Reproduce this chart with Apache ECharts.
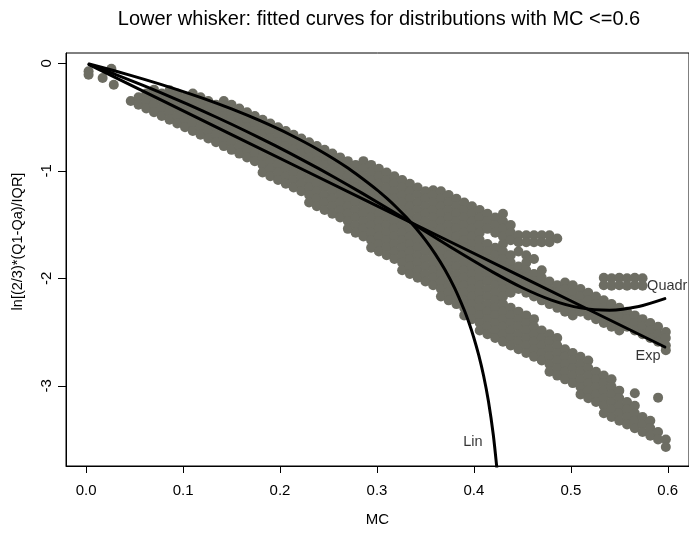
<!DOCTYPE html>
<html>
<head>
<meta charset="utf-8">
<script src="https://cdn.jsdelivr.net/npm/echarts@6/dist/echarts.min.js"></script>
<style>html,body{margin:0;padding:0;background:#fff}#c{width:689px;height:534px}</style>
</head>
<body>
<div id="c"></div>
<script>
// x positions of point columns and the y values of points in each column
const cloudX = [0.046,0.054,0.062,0.070,0.078,0.086,0.094,0.102,0.110,0.118,0.126,0.134,0.142,0.150,0.158,0.166,0.174,0.182,0.190,0.198,0.206,0.214,0.222,0.230,0.238,0.246,0.254,0.262,0.270,0.278,0.286,0.294,0.302,0.310,0.318,0.326,0.334,0.342,0.350,0.358,0.366,0.374,0.382,0.390,0.398,0.406,0.414,0.422,0.430,0.438,0.446,0.454,0.462,0.470,0.478,0.486,0.494,0.502,0.510,0.518,0.526,0.534,0.542,0.550,0.558,0.566,0.574,0.582,0.590,0.598];
const cloudY = [
[-0.35],
[-0.315,-0.385],
[-0.28,-0.35,-0.42],
[-0.245,-0.315,-0.385,-0.455],
[-0.28,-0.35,-0.42,-0.49],
[-0.25,-0.315,-0.385,-0.455,-0.525],
[-0.28,-0.35,-0.42,-0.49,-0.56],
[-0.315,-0.385,-0.455,-0.525,-0.595],
[-0.28,-0.35,-0.42,-0.49,-0.56,-0.63],
[-0.315,-0.385,-0.455,-0.525,-0.595,-0.665],
[-0.35,-0.42,-0.49,-0.56,-0.63,-0.70],
[-0.385,-0.455,-0.525,-0.595,-0.665,-0.735],
[-0.35,-0.42,-0.49,-0.56,-0.63,-0.70,-0.77],
[-0.385,-0.455,-0.525,-0.595,-0.665,-0.735,-0.805],
[-0.42,-0.49,-0.56,-0.63,-0.70,-0.77,-0.84],
[-0.455,-0.525,-0.595,-0.665,-0.735,-0.805,-0.875],
[-0.49,-0.56,-0.63,-0.70,-0.77,-0.84,-0.91],
[-0.525,-0.595,-0.665,-0.735,-0.805,-0.875,-0.945,-1.015],
[-0.56,-0.63,-0.70,-0.77,-0.84,-0.91,-0.98,-1.05],
[-0.595,-0.665,-0.735,-0.805,-0.875,-0.945,-1.015,-1.085],
[-0.63,-0.70,-0.77,-0.84,-0.91,-0.98,-1.05,-1.12],
[-0.665,-0.735,-0.805,-0.875,-0.945,-1.015,-1.085,-1.155],
[-0.70,-0.77,-0.84,-0.91,-0.98,-1.05,-1.12,-1.19],
[-0.735,-0.805,-0.875,-0.945,-1.015,-1.085,-1.155,-1.225,-1.295],
[-0.77,-0.84,-0.91,-0.98,-1.05,-1.12,-1.19,-1.26,-1.33],
[-0.805,-0.875,-0.945,-1.015,-1.085,-1.155,-1.225,-1.295,-1.365],
[-0.84,-0.91,-0.98,-1.05,-1.12,-1.19,-1.26,-1.33,-1.40],
[-0.875,-0.945,-1.015,-1.085,-1.155,-1.225,-1.295,-1.365,-1.435],
[-0.91,-0.98,-1.05,-1.12,-1.19,-1.26,-1.33,-1.40,-1.47,-1.54],
[-0.945,-1.015,-1.085,-1.155,-1.225,-1.295,-1.365,-1.435,-1.505,-1.575],
[-0.91,-0.98,-1.05,-1.12,-1.19,-1.26,-1.33,-1.40,-1.47,-1.54,-1.61],
[-0.945,-1.015,-1.085,-1.155,-1.225,-1.295,-1.365,-1.435,-1.505,-1.575,-1.645,-1.715],
[-0.98,-1.05,-1.12,-1.19,-1.26,-1.33,-1.40,-1.47,-1.54,-1.61,-1.68,-1.75],
[-1.015,-1.085,-1.155,-1.225,-1.295,-1.365,-1.435,-1.505,-1.575,-1.645,-1.715,-1.785],
[-1.05,-1.12,-1.19,-1.26,-1.33,-1.40,-1.47,-1.54,-1.61,-1.68,-1.75,-1.82],
[-1.085,-1.155,-1.225,-1.295,-1.365,-1.435,-1.505,-1.575,-1.645,-1.715,-1.785,-1.855,-1.925],
[-1.12,-1.19,-1.26,-1.33,-1.40,-1.47,-1.54,-1.61,-1.68,-1.75,-1.82,-1.89,-1.96],
[-1.155,-1.225,-1.295,-1.365,-1.435,-1.505,-1.575,-1.645,-1.715,-1.785,-1.855,-1.925,-1.995],
[-1.19,-1.26,-1.33,-1.40,-1.47,-1.54,-1.61,-1.68,-1.75,-1.82,-1.89,-1.96,-2.03],
[-1.18,-1.225,-1.295,-1.365,-1.435,-1.505,-1.575,-1.645,-1.715,-1.785,-1.855,-1.925,-1.995,-2.065],
[-1.19,-1.26,-1.33,-1.40,-1.47,-1.54,-1.61,-1.68,-1.75,-1.82,-1.89,-1.96,-2.03,-2.10,-2.17],
[-1.225,-1.295,-1.365,-1.435,-1.505,-1.575,-1.645,-1.715,-1.785,-1.855,-1.925,-1.995,-2.065,-2.135,-2.205],
[-1.26,-1.33,-1.40,-1.47,-1.54,-1.61,-1.68,-1.75,-1.82,-1.89,-1.96,-2.03,-2.10,-2.17,-2.24],
[-1.295,-1.365,-1.435,-1.505,-1.575,-1.645,-1.715,-1.785,-1.855,-1.925,-1.995,-2.065,-2.135,-2.205,-2.275,-2.345],
[-1.33,-1.40,-1.47,-1.54,-1.61,-1.68,-1.75,-1.82,-1.89,-1.96,-2.03,-2.10,-2.17,-2.24,-2.31,-2.38],
[-1.365,-1.435,-1.505,-1.575,-1.645,-1.715,-1.785,-1.855,-1.925,-1.995,-2.065,-2.135,-2.205,-2.275,-2.345,-2.415,-2.485],
[-1.40,-1.47,-1.54,-1.68,-1.75,-1.82,-1.89,-1.96,-2.03,-2.10,-2.17,-2.24,-2.31,-2.38,-2.45,-2.52],
[-1.435,-1.505,-1.575,-1.715,-1.785,-1.855,-1.925,-1.995,-2.065,-2.135,-2.205,-2.275,-2.345,-2.415,-2.485,-2.555],
[-1.40,-1.47,-1.54,-1.61,-1.68,-1.75,-1.82,-1.89,-1.96,-2.03,-2.10,-2.17,-2.24,-2.31,-2.38,-2.45,-2.52,-2.59],
[-1.505,-1.575,-1.645,-1.785,-1.855,-1.925,-1.995,-2.065,-2.135,-2.275,-2.345,-2.415,-2.485,-2.555,-2.625],
[-1.60,-1.665,-1.75,-1.89,-1.96,-2.03,-2.10,-2.31,-2.38,-2.45,-2.52,-2.59,-2.66],
[-1.60,-1.665,-1.785,-1.855,-1.925,-1.995,-2.065,-2.135,-2.345,-2.415,-2.485,-2.555,-2.625,-2.695],
[-1.60,-1.665,-1.82,-1.96,-2.03,-2.10,-2.17,-2.38,-2.45,-2.52,-2.59,-2.66,-2.73],
[-1.60,-1.665,-1.925,-1.995,-2.065,-2.135,-2.205,-2.485,-2.555,-2.625,-2.695,-2.765],
[-1.60,-1.665,-2.03,-2.10,-2.17,-2.24,-2.52,-2.59,-2.66,-2.73,-2.80,-2.87],
[-1.63,-2.065,-2.135,-2.205,-2.275,-2.555,-2.625,-2.695,-2.765,-2.835,-2.905],
[-2.04,-2.10,-2.17,-2.24,-2.31,-2.66,-2.73,-2.80,-2.87,-2.94],
[-2.065,-2.135,-2.205,-2.275,-2.345,-2.695,-2.765,-2.835,-2.905,-2.975],
[-2.10,-2.17,-2.24,-2.31,-2.73,-2.80,-2.87,-2.94,-3.01,-3.08],
[-2.135,-2.205,-2.275,-2.345,-2.765,-2.835,-2.905,-2.975,-3.045,-3.115],
[-2.17,-2.24,-2.31,-2.38,-2.87,-2.94,-3.01,-3.08,-3.15],
[-1.995,-2.065,-2.205,-2.275,-2.345,-2.415,-2.905,-2.975,-3.045,-3.115,-3.185,-3.255],
[-2.00,-2.07,-2.24,-2.31,-2.38,-2.45,-2.94,-3.01,-3.08,-3.15,-3.22,-3.29],
[-1.995,-2.065,-2.275,-2.345,-2.415,-2.485,-3.045,-3.115,-3.185,-3.255,-3.325],
[-2.00,-2.07,-2.31,-2.38,-2.45,-3.15,-3.22,-3.29,-3.36],
[-1.995,-2.065,-2.345,-2.415,-2.485,-3.07,-3.185,-3.255,-3.325,-3.395],
[-2.00,-2.07,-2.38,-2.45,-2.52,-3.29,-3.36,-3.43],
[-2.415,-2.485,-2.555,-3.325,-3.395,-3.465],
[-2.45,-2.52,-2.59,-3.11,-3.43,-3.50],
[-2.50,-2.555,-2.625,-2.67,-3.50,-3.57]
];
// isolated points near the origin
const loosePoints = [[0.0025,-0.074],[0.0025,-0.106],[0.017,-0.137],[0.026,-0.05],[0.0285,-0.20]];

// fitted curves
const linCurve = [[0.003,-0.0069],[0.03,-0.0717],[0.06,-0.1489],[0.09,-0.2326],[0.12,-0.3239],[0.15,-0.4244],[0.18,-0.5362],[0.21,-0.6620],[0.24,-0.8061],[0.27,-0.9743],[0.30,-1.1768],[0.31,-1.2545],[0.32,-1.3388],[0.33,-1.4309],[0.34,-1.5322],[0.35,-1.6452],[0.36,-1.7724],[0.37,-1.9181],[0.38,-2.0889],[0.39,-2.2950],[0.395,-2.4166],[0.40,-2.5548],[0.405,-2.7155],[0.41,-2.9070],[0.415,-3.1441],[0.42,-3.4549],[0.4235,-3.7499],[0.425,-3.909]];
const quadrCurve = [[0.003,-0.0101],[0.03,-0.1029],[0.06,-0.2106],[0.09,-0.3236],[0.12,-0.4422],[0.15,-0.5668],[0.18,-0.6977],[0.21,-0.8354],[0.24,-0.9801],[0.27,-1.1317],[0.30,-1.2897],[0.33,-1.4532],[0.36,-1.6199],[0.39,-1.7860],[0.42,-1.9450],[0.45,-2.0878],[0.48,-2.2022],[0.51,-2.2752],[0.54,-2.2963],[0.57,-2.2624],[0.597,-2.1890]];
const expCurve = [[0.003,-0.013],[0.15,-0.663],[0.30,-1.326],[0.45,-1.989],[0.597,-2.639]];
const curveNames = ['Lin','Exp','Quadr'];
const curveLabelAt = [[0.399,-3.523],[0.5796,-2.723],[0.5787,-2.072]];

const xTicks = [0,0.1,0.2,0.3,0.4,0.5,0.6];
const yTicks = [0,-1,-2,-3];

const cloud = cloudX.flatMap((x,i)=>cloudY[i].map(y=>[x,y])).concat(loosePoints);
const FONT = '"Liberation Sans", Arial, Helvetica, sans-serif';

const chart = echarts.init(document.getElementById('c'), null, {renderer:'canvas'});
const lineSeries = (data) => ({type:'line', data, showSymbol:false, symbol:'none', smooth:0.25, clip:true, z:5,
  lineStyle:{color:'#000', width:3, cap:'round', join:'round'}, silent:true});
chart.setOption({
  animation:false,
  title:{text:'Lower whisker: fitted curves for distributions with MC <=0.6', left:379, top:9, textAlign:'center', padding:0,
    textStyle:{fontFamily:FONT, fontSize:20, fontWeight:'normal', color:'#000'}},
  grid:{left:66, top:53, width:626, height:413, show:true, borderColor:'#000', borderWidth:1, backgroundColor:'transparent'},
  xAxis:{type:'value', min:-0.0208, max:0.6219, name:'MC', nameLocation:'middle', nameGap:46,
    nameTextStyle:{fontFamily:FONT, fontSize:15, color:'#000'},
    axisLine:{show:true, onZero:false, lineStyle:{color:'#000', width:1}},
    axisTick:{show:true, length:7, customValues:xTicks, lineStyle:{color:'#000', width:1}},
    axisLabel:{customValues:xTicks, formatter:v=>Number(v).toFixed(1), margin:17, fontFamily:FONT, fontSize:15, color:'#000'},
    splitLine:{show:false}},
  yAxis:{type:'value', min:-3.746, max:0.096, name:'ln[(2/3)*(Q1-Qa)/IQR]', nameLocation:'middle', nameGap:41, nameRotate:90,
    nameTextStyle:{fontFamily:FONT, fontSize:14.5, color:'#000', padding:[0,0,0,36]},
    axisLine:{show:true, onZero:false, lineStyle:{color:'#000', width:1}},
    axisTick:{show:true, length:8, customValues:yTicks, lineStyle:{color:'#000', width:1}},
    axisLabel:{customValues:yTicks, formatter:v=>String(Math.round(v)), rotate:90, margin:12, fontFamily:FONT, fontSize:15, color:'#000'},
    splitLine:{show:false}},
  series:[
    {type:'scatter', data:cloud, symbol:'circle', symbolSize:10, silent:true, z:2,
      itemStyle:{color:'#6d6d63', opacity:1}},
    lineSeries(linCurve),
    lineSeries(quadrCurve),
    lineSeries(expCurve),
    {type:'scatter', symbolSize:1, silent:true, z:6, itemStyle:{color:'rgba(0,0,0,0)'},
      data:curveNames.map((n,i)=>({name:n, value:curveLabelAt[i], label:{align: n==='Quadr'?'left':'center'}})),
      label:{show:true, position:'inside', formatter:p=>p.name, fontFamily:FONT, fontSize:14.5, color:'#000'}}
  ]
});
</script>
</body>
</html>
